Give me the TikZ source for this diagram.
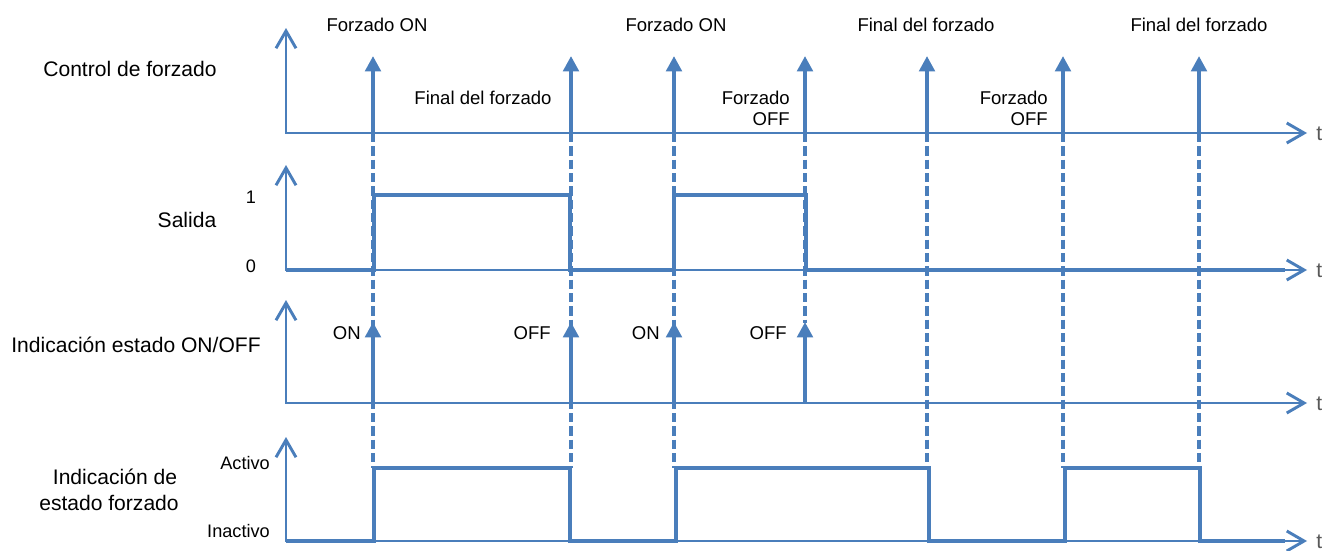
\documentclass[tikz,border=0pt]{standalone}
\usepackage{fontspec}
\setmainfont{Liberation Sans}
\usetikzlibrary{arrows.meta,calc}
\definecolor{sigblue}{RGB}{74,126,187}
\begin{document}
\begin{tikzpicture}[x=0.75pt,y=-0.75pt,
  axis/.style={draw=sigblue,line width=2.2pt,line join=miter,
    {Straight Barb[length=13pt,width=15pt]}-{Straight Barb[length=13pt,width=15pt]}},
  signal/.style={draw=sigblue,line width=3pt,line join=miter},
  guide/.style={draw=sigblue,line width=2.5pt,dash pattern=on 7pt off 3pt},
  event/.style={draw=sigblue,line width=3pt,-{Triangle[length=11.5pt,width=11.5pt]}},
  toplabel/.style={inner sep=0pt,font=\fontsize{13.9}{17}\selectfont},
  lvllabel/.style={inner sep=0pt,font=\fontsize{13.6}{16}\selectfont},
  rowlabel/.style={inner sep=0pt,font=\fontsize{15.8}{19.5}\selectfont},
  tlabel/.style={inner sep=0pt,text=black!65,font=\fontsize{15.8}{19}\selectfont}]
\useasboundingbox[fill=white] (0,0) rectangle (1324,550);

% event instants
\foreach \n/\x in {a/373,b/571,c/674,d/805,e/927,f/1063,g/1199}{
  \coordinate (top\n) at (\x,133);
}

% dashed guide lines running down through the rows
\foreach \n in {a,b,c,e,f,g}{
  \coordinate (bot\n) at ($(top\n)+(0,335)$);
}
\foreach \n in {a,b,c,e,f,g}{ \draw[guide] (top\n) -- (bot\n); }
\coordinate (botd) at (805,323);
\draw[guide] (topd) -- (botd);

% axes
\draw[axis] (286,28) -- (286,133) -- (1307,133);
\draw[axis] (286,165) -- (286,270) -- (1307,270);
\draw[axis] (286,300) -- (286,403) -- (1307,403);
\draw[axis] (286,437) -- (286,541) -- (1307,541);

% output signal
\draw[signal] (286,270) -- (374,270) -- (374,195) -- (570,195) -- (570,270)
  -- (674,270) -- (674,195) -- (806,195) -- (806,270) -- (1285,270);

% forced-state signal
\draw[signal] (286,541) -- (374,541) -- (374,468) -- (570,468) -- (570,541)
  -- (676,541) -- (676,468) -- (929,468) -- (929,541) -- (1065,541)
  -- (1065,468) -- (1200,468) -- (1200,541) -- (1285,541);

% forcing commands
\foreach \n/\x in {a/373,b/571,c/674,d/805,e/927,f/1063,g/1199}{
  \coordinate (cmd\n) at (\x,56);
  \draw[event] (top\n) -- (cmd\n);
}

% ON/OFF indications
\foreach \n/\x in {a/373,b/571,c/674,d/805}{
  \coordinate (ind\n) at (\x,403);
  \coordinate (indtip\n) at (\x,322);
  \draw[event] (ind\n) -- (indtip\n);
}

% event labels
\node[toplabel,anchor=base] (l1) at (377,31) {Forzado ON};
\node[toplabel,anchor=base] (l2) at (676,31) {Forzado ON};
\node[toplabel,anchor=base] (l3) at (926,31) {Final del forzado};
\node[toplabel,anchor=base] (l4) at (1199,31) {Final del forzado};
\node[toplabel,anchor=base] (l5) at (483,104) {Final del forzado};
\node[toplabel,anchor=base east] (l6a) at (790,104) {Forzado};
\node[toplabel,anchor=base east] (l6b) at (790,125) {OFF};
\node[toplabel,anchor=base east] (l7a) at (1048,104) {Forzado};
\node[toplabel,anchor=base east] (l7b) at (1048,125) {OFF};

\node[toplabel,anchor=base east] (s1) at (361,339) {ON};
\node[toplabel,anchor=base east] (s2) at (551,339) {OFF};
\node[toplabel,anchor=base east] (s3) at (660,339) {ON};
\node[toplabel,anchor=base east] (s4) at (787,339) {OFF};

% row titles
\node[rowlabel,anchor=base] (r1) at (130,76) {Control de forzado};
\node[rowlabel,anchor=base] (r2) at (187,227) {Salida};
\node[rowlabel,anchor=base] (r3) at (136,352) {Indicación estado ON/OFF};
\node[rowlabel,anchor=base] (r4a) at (115,484) {Indicación de};
\node[rowlabel,anchor=base] (r4b) at (109,510) {estado forzado};

% level labels
\node[lvllabel,anchor=base] (v1) at (251,203) {1};
\node[lvllabel,anchor=base] (v0) at (251,272) {0};
\node[lvllabel,anchor=base east] (va) at (270,469) {Activo};
\node[lvllabel,anchor=base east] (vi) at (270,537) {Inactivo};

% time axis letters
\foreach \y [count=\i] in {133,270,403,541}{
  \node[tlabel,anchor=base west] (t\i) at (1316,\y+7) {t};
}
\end{tikzpicture}
\end{document}
